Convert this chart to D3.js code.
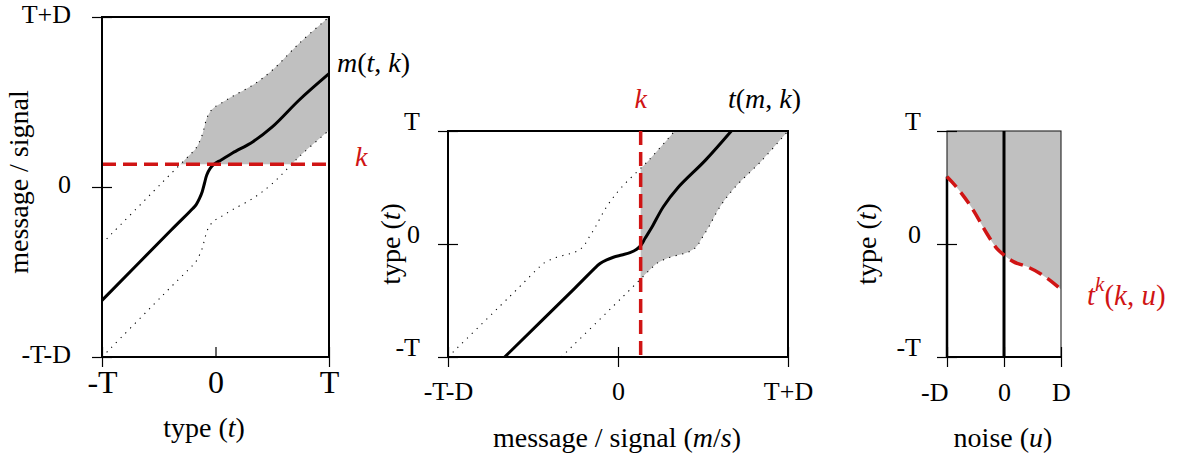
<!DOCTYPE html>
<html>
<head>
<meta charset="utf-8">
<script src="https://cdn.jsdelivr.net/npm/d3@7"></script>
<style>
body { margin: 0; background: #fff; }
svg { display: block; font-family: "Liberation Serif", "DejaVu Serif", serif; }
</style>
</head>
<body>
<svg id="chart" width="1179" height="461"></svg>
<script>
// model constants: type range T, noise range D, threshold k
var T = 1, D = 0.5, K = 0.2;

// m(t, k): message sent by type t (left), drawn inverted as t(m, k) in the middle
var typeVals = [-1, -0.39, -0.2, -0.17, -0.141, -0.117, -0.097, -0.077, -0.047, -0.009, 0.05, 0.15, 0.33, 0.5, 0.74, 1];
var messageVals = [-1, -0.38, -0.19, -0.155, -0.10, -0.041, 0.033, 0.106, 0.165, 0.204, 0.239, 0.30, 0.40, 0.53, 0.77, 1.0];

// t^k(k, u): cutoff type against noise (right)
var noiseVals = [-0.5, -0.445, -0.27, -0.152, -0.064, 0, 0.082, 0.2, 0.316, 0.5];
var cutoffVals = [0.596, 0.537, 0.30, 0.095, -0.038, -0.097, -0.156, -0.2, -0.26, -0.40];

// tick values and labels
var leftXTicks = [-T, 0, T], leftXLabels = ["-T", "0", "T"];
var leftYTicks = [-T - D, 0, T + D], leftYLabels = ["-T-D", "0", "T+D"];
var midXTicks = [-T - D, 0, T + D], midXLabels = ["-T-D", "0", "T+D"];
var midYTicks = [-T, 0, T], midYLabels = ["-T", "0", "T"];
var rightXTicks = [-D, 0, D], rightXLabels = ["-D", "0", "D"];
var rightYTicks = [-T, 0, T], rightYLabels = ["-T", "0", "T"];

var RED = "#d01414", GRAY = "#c0c0c0";
var smooth = d3.curveCatmullRom.alpha(0.5);

var svg = d3.select("#chart");

var pts = typeVals.map(function(t, i) { return {t: t, m: messageVals[i]}; });

function richText(g, x, y, parts, size, fill, anchor, transform) {
  var t = g.append("text")
    .attr("x", x).attr("y", y)
    .attr("font-size", size)
    .attr("fill", fill || "#000")
    .attr("text-anchor", anchor || "start");
  if (transform) t.attr("transform", transform);
  parts.forEach(function(p) {
    var s = t.append("tspan").text(p[0]);
    if (p[1]) s.attr("font-style", "italic");
    if (p[2]) s.attr("font-size", p[2]);
    if (p[3]) s.attr("dy", p[3]);
  });
  return t;
}

function drawAxes(g, x, y, o) {
  var x0 = x.range()[0], y0 = y.range()[0];
  var ya = g.append("g")
    .attr("transform", "translate(" + (x0 + 10) + ",0)")
    .call(d3.axisLeft(y).tickValues(o.yTicks)
      .tickFormat(function(d, i) { return o.yLabels[i]; })
      .tickSize(20).tickPadding(o.yPad));
  ya.attr("font-family", null).attr("font-size", null);
  ya.select(".domain").remove();
  ya.selectAll("line").attr("stroke", "#000").attr("stroke-width", 1.2);
  ya.selectAll("text").attr("font-size", o.yFont).attr("dy", o.yDy).attr("fill", "#000");

  var xa = g.append("g")
    .attr("transform", "translate(0," + (y0 - 10) + ")")
    .call(d3.axisBottom(x).tickValues(o.xTicks)
      .tickFormat(function(d, i) { return o.xLabels[i]; })
      .tickSize(20));
  xa.attr("font-family", null).attr("font-size", null);
  xa.select(".domain").remove();
  xa.selectAll("line").attr("stroke", "#000").attr("stroke-width", 1.2);
  if (o.xInnerOnly) {
    xa.selectAll("line").attr("y2", function(d) { return o.xInnerOnly.indexOf(d) >= 0 ? 10 : 20; });
  }
  xa.selectAll("text").attr("font-size", o.xFont).attr("y", o.xBase - (y0 - 10)).attr("dy", 0).attr("fill", "#000");
  if (o.xAnchors) {
    xa.selectAll("text").attr("text-anchor", function(d, i) { return o.xAnchors[i]; })
      .attr("dx", function(d, i) { return o.xAnchors[i] === "end" ? 1 : 0; });
  }
}

// ---------- left panel: m(t, k) ----------
var xL = d3.scaleLinear().domain([-T, T]).range([102, 329]);
var yL = d3.scaleLinear().domain([-T - D, T + D]).range([357, 17]);
var gL = svg.append("g");

gL.append("clipPath").attr("id", "clipL").append("rect")
  .attr("x", xL(-T)).attr("y", yL(T + D))
  .attr("width", xL(T) - xL(-T)).attr("height", yL(K) - yL(T + D));

gL.append("path").datum(pts)
  .attr("clip-path", "url(#clipL)")
  .attr("fill", GRAY)
  .attr("d", d3.area().curve(smooth)
    .x(function(d) { return xL(d.t); })
    .y0(function(d) { return yL(d.m - D); })
    .y1(function(d) { return yL(d.m + D); }));

[-D, D].forEach(function(off) {
  gL.append("path").datum(pts)
    .attr("fill", "none").attr("stroke", "#000").attr("stroke-width", 1.1)
    .attr("stroke-dasharray", "1.2,5.5")
    .attr("d", d3.line().curve(smooth)
      .x(function(d) { return xL(d.t); })
      .y(function(d) { return yL(d.m + off); }));
});

gL.append("path").datum(pts)
  .attr("fill", "none").attr("stroke", "#000").attr("stroke-width", 3)
  .attr("d", d3.line().curve(smooth)
    .x(function(d) { return xL(d.t); })
    .y(function(d) { return yL(d.m); }));

gL.append("line")
  .attr("x1", xL(-T)).attr("x2", xL(T)).attr("y1", yL(K)).attr("y2", yL(K))
  .attr("stroke", RED).attr("stroke-width", 3.5).attr("stroke-dasharray", "14,7");

gL.append("rect")
  .attr("x", xL(-T)).attr("y", yL(T + D))
  .attr("width", xL(T) - xL(-T)).attr("height", yL(-T - D) - yL(T + D))
  .attr("fill", "none").attr("stroke", "#000").attr("stroke-width", 2);

drawAxes(gL, xL, yL, {
  yTicks: leftYTicks, yLabels: leftYLabels, yPad: 21, yFont: 26, yDy: 5,
  xTicks: leftXTicks, xLabels: leftXLabels, xFont: 32, xBase: 393, xInnerOnly: [0]
});

richText(gL, 337, 72, [["m", 1], ["("], ["t", 1], [", "], ["k", 1], [")"]], 28);
richText(gL, 355, 166, [["k", 1]], 28, RED);
richText(gL, 204, 437, [["type ("], ["t", 1], [")"]], 28, "#000", "middle");
richText(gL, 0, 0, [["message / signal"]], 28, "#000", "middle", "translate(28,182) rotate(-90)");

// ---------- middle panel: t(m, k) ----------
var xM = d3.scaleLinear().domain([-T - D, T + D]).range([448, 788]);
var yM = d3.scaleLinear().domain([-T, T]).range([357, 131]);
var gM = svg.append("g");

gM.append("clipPath").attr("id", "clipM").append("rect")
  .attr("x", xM(K)).attr("y", yM(T))
  .attr("width", xM(T + D) - xM(K)).attr("height", yM(-T) - yM(T));

gM.append("path").datum(pts)
  .attr("clip-path", "url(#clipM)")
  .attr("fill", GRAY)
  .attr("d", d3.area().curve(smooth)
    .y(function(d) { return yM(d.t); })
    .x0(function(d) { return xM(d.m - D); })
    .x1(function(d) { return xM(d.m + D); }));

[-D, D].forEach(function(off) {
  gM.append("path").datum(pts)
    .attr("fill", "none").attr("stroke", "#000").attr("stroke-width", 1.1)
    .attr("stroke-dasharray", "1.2,5.5")
    .attr("d", d3.line().curve(smooth)
      .x(function(d) { return xM(d.m + off); })
      .y(function(d) { return yM(d.t); }));
});

gM.append("path").datum(pts)
  .attr("fill", "none").attr("stroke", "#000").attr("stroke-width", 3)
  .attr("d", d3.line().curve(smooth)
    .x(function(d) { return xM(d.m); })
    .y(function(d) { return yM(d.t); }));

gM.append("rect")
  .attr("x", xM(-T - D)).attr("y", yM(T))
  .attr("width", xM(T + D) - xM(-T - D)).attr("height", yM(-T) - yM(T))
  .attr("fill", "none").attr("stroke", "#000").attr("stroke-width", 2);

gM.append("line")
  .attr("x1", xM(K)).attr("x2", xM(K)).attr("y1", yM(T)).attr("y2", yM(-T))
  .attr("stroke", RED).attr("stroke-width", 3.5).attr("stroke-dasharray", "14,7");

drawAxes(gM, xM, yM, {
  yTicks: midYTicks, yLabels: midYLabels, yPad: 18, yFont: 26, yDy: -2,
  xTicks: midXTicks, xLabels: midXLabels, xFont: 26, xBase: 400
});

richText(gM, xM(K), 108, [["k", 1]], 28, RED, "middle");
richText(gM, 728, 108, [["t", 1], ["("], ["m", 1], [", "], ["k", 1], [")"]], 28);
richText(gM, 617, 447, [["message / signal ("], ["m", 1], ["/"], ["s", 1], [")"]], 28, "#000", "middle");
richText(gM, 0, 0, [["type ("], ["t", 1], [")"]], 28, "#000", "middle", "translate(400,244) rotate(-90)");

// ---------- right panel: t^k(k, u) ----------
var xR = d3.scaleLinear().domain([-D, D]).range([947, 1061]);
var yR = d3.scaleLinear().domain([-T, T]).range([357, 131]);
var gR = svg.append("g");
var ptsR = noiseVals.map(function(u, i) { return {u: u, t: cutoffVals[i]}; });

gR.append("path").datum(ptsR)
  .attr("fill", GRAY)
  .attr("d", d3.area().curve(d3.curveMonotoneX)
    .x(function(d) { return xR(d.u); })
    .y0(yR(T))
    .y1(function(d) { return yR(d.t); }));

gR.append("rect")
  .attr("x", xR(-D)).attr("y", yR(T))
  .attr("width", xR(D) - xR(-D)).attr("height", yR(-T) - yR(T))
  .attr("fill", "none").attr("stroke", "#222").attr("stroke-width", 1.1);

gR.append("line")
  .attr("x1", xR(-D)).attr("x2", xR(-D)).attr("y1", yR(cutoffVals[0])).attr("y2", yR(-T))
  .attr("stroke", "#000").attr("stroke-width", 2.5);
gR.append("line")
  .attr("x1", xR(-D)).attr("x2", xR(D)).attr("y1", yR(-T)).attr("y2", yR(-T))
  .attr("stroke", "#000").attr("stroke-width", 2);
gR.append("line")
  .attr("x1", xR(0)).attr("x2", xR(0)).attr("y1", yR(T)).attr("y2", yR(-T))
  .attr("stroke", "#000").attr("stroke-width", 3);

gR.append("path").datum(ptsR)
  .attr("fill", "none").attr("stroke", RED).attr("stroke-width", 3.5)
  .attr("stroke-dasharray", "14,7")
  .attr("d", d3.line().curve(d3.curveMonotoneX)
    .x(function(d) { return xR(d.u); })
    .y(function(d) { return yR(d.t); }));

drawAxes(gR, xR, yR, {
  yTicks: rightYTicks, yLabels: rightYLabels, yPad: 16, yFont: 26, yDy: -2,
  xTicks: rightXTicks, xLabels: rightXLabels, xFont: 26, xBase: 401,
  xAnchors: ["end", "middle", "middle"]
});

richText(gR, 1087, 305, [["t", 1], ["k", 1, 21, -14], ["(", 0, null, 14], ["k", 1], [", "], ["u", 1], [")"]], 29, RED);
richText(gR, 1003, 447, [["noise ("], ["u", 1], [")"]], 28, "#000", "middle");
richText(gR, 0, 0, [["type ("], ["t", 1], [")"]], 28, "#000", "middle", "translate(876,244) rotate(-90)");
</script>
</body>
</html>
